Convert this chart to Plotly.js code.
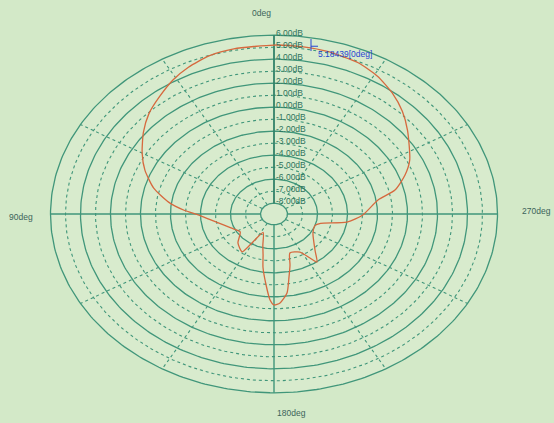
<!DOCTYPE html>
<html><head><meta charset="utf-8">
<script src="https://cdn.plot.ly/plotly-3.0.1.min.js"></script>
<style>html,body{margin:0;padding:0;background:#d3e9c8;}#chart{width:554px;height:423px;}</style>
</head><body><div id="chart"></div>
<script>
// ---- data ----
const angleDeg = [0, 11, 18, 25, 31, 38, 45, 52, 60, 67, 75, 82, 87, 91, 100, 112, 123.5, 135, 146, 149, 155, 164, 168, 170.6, 174.9, 177.9, 180, 183.1, 187.5, 190.8, 194.1, 198, 208.6, 213.2, 215.6, 222.3, 238.7, 251, 256, 262, 269, 279.6, 283.9, 290.4, 296.4, 308, 315, 322, 329, 336, 345, 352, 360];
const gainDb = [5.18, 5.12, 4.98, 4.6, 4.15, 3.5, 2.9, 2.15, 1.25, 0.45, -0.6, -1.8, -2.9, -3.9, -5.0, -5.8, -6.2, -5.5, -5.1, -6.2, -7.2, -6.2, -5.4, -4.4, -2.96, -1.73, -1.32, -1.47, -2.26, -3.56, -4.52, -5.48, -5.29, -4.52, -3.98, -4.84, -5.86, -6.0, -5.7, -4.0, -3.0, -1.87, -0.59, 0.42, 1.2, 2.4, 3.2, 3.9, 4.5, 4.9, 5.1, 5.16, 5.18];
const gridLevels = [6, 5, 4, 3, 2, 1, 0, -1, -2, -3, -4, -5, -6, -7, -8];
const tickLabels = ["6.00dB","5.00dB","4.00dB","3.00dB","2.00dB","1.00dB","0.00dB","-1.00dB","-2.00dB","-3.00dB","-4.00dB","-5.00dB","-6.00dB","-7.00dB","-8.00dB"];
const spokeAngles = [30, 60, 120, 150, 210, 240, 300, 330];
const axisAngles = [0, 90, 180, 270];
const angleLabels = ["0deg", "90deg", "180deg", "270deg"];
const markerText = "5.18439[0deg]";

// ---- geometry helpers ----
const R0 = -8.9;           // dB value at the centre
const rMax = 6, rMin = -8;
function toXY(deg, db) {
  const t = deg * Math.PI / 180, r = db - R0;
  return [-r * Math.sin(t), r * Math.cos(t)];
}

const gridColor = 'rgb(64,150,122)';
const traces = [];

// outer ellipse fill
(function(){
  const xs = [], ys = [];
  for (let a = 0; a <= 360; a += 2) { const p = toXY(a, rMax); xs.push(p[0]); ys.push(p[1]); }
  traces.push({x: xs, y: ys, mode: 'lines', fill: 'toself', fillcolor: 'rgb(216,235,205)', line: {width: 0}, hoverinfo: 'skip'});
})();

// grid ellipses
gridLevels.forEach(lv => {
  const xs = [], ys = [];
  for (let a = 0; a <= 360; a += 1) { const p = toXY(a, lv); xs.push(p[0]); ys.push(p[1]); }
  const solid = (lv % 2 === 0);
  traces.push({x: xs, y: ys, mode: 'lines', hoverinfo: 'skip',
    line: {color: gridColor, width: solid ? 1.3 : 1.1, dash: solid ? 'solid' : 'dot'}});
});

// spokes
spokeAngles.forEach(a => {
  const p1 = toXY(a, rMin), p2 = toXY(a, rMax);
  traces.push({x: [p1[0], p2[0]], y: [p1[1], p2[1]], mode: 'lines', hoverinfo: 'skip',
    line: {color: gridColor, width: 1.1, dash: 'dot'}});
});
axisAngles.forEach(a => {
  const p1 = toXY(a, rMin), p2 = toXY(a, rMax);
  traces.push({x: [p1[0], p2[0]], y: [p1[1], p2[1]], mode: 'lines', hoverinfo: 'skip',
    line: {color: a === 0 ? 'rgb(50,130,105)' : gridColor, width: a === 0 ? 1.8 : 1.4}});
});

// pattern curve
(function(){
  const xs = [], ys = [];
  angleDeg.forEach((a, i) => { const p = toXY(a, gainDb[i]); xs.push(p[0]); ys.push(p[1]); });
  traces.push({x: xs, y: ys, mode: 'lines', hoverinfo: 'skip',
    line: {color: 'rgb(214,105,62)', width: 1.3, shape: 'spline', smoothing: 0.6}});
})();

// annotations
const font = {family: 'Liberation Sans, Arial, sans-serif', size: 8.5, color: 'rgb(45,115,92)'};
const ann = [];
gridLevels.forEach((lv, i) => {
  const p = toXY(0, lv);
  ann.push({x: p[0], y: p[1], xref: 'x', yref: 'y', text: tickLabels[i], showarrow: false,
    xanchor: 'left', yanchor: 'middle', xshift: 0, yshift: 2, font: font});
});
// angle labels placed in pixel space (paper coords)
const angleLabelPx = [[273, 13, 'right'], [7, 217, 'left'], [275, 413, 'left'], [520, 211, 'left']];
angleLabels.forEach((t, i) => {
  const q = angleLabelPx[i];
  ann.push({x: q[0] / 554, y: 1 - q[1] / 423, xref: 'paper', yref: 'paper', text: t, showarrow: false,
    xanchor: q[2], yanchor: 'middle',
    font: {family: 'Liberation Sans, Arial, sans-serif', size: 8.5, color: 'rgb(60,100,90)'}});
});
// marker readout
const pk = toXY(0, gainDb[0]);
ann.push({x: pk[0], y: pk[1], xref: 'x', yref: 'y', text: markerText, showarrow: false,
  xanchor: 'left', yanchor: 'middle', xshift: 42, yshift: -9,
  font: {family: 'Liberation Sans, Arial, sans-serif', size: 8.5, color: 'rgb(40,70,210)'}});

const shapes = [
  {type: 'line', xref: 'x', yref: 'y', x0: pk[0] + 37/15, x1: pk[0] + 37/15, y0: pk[1] + 0.5, y1: pk[1] - 0.5,
   line: {color: 'rgb(40,70,210)', width: 1}},
  {type: 'line', xref: 'x', yref: 'y', x0: pk[0] + 37/15, x1: pk[0] + 44/15, y0: pk[1] - 0.1, y1: pk[1] - 0.1,
   line: {color: 'rgb(40,70,210)', width: 1}}
];

const layout = {
  width: 554, height: 423,
  margin: {l: 0, r: 0, t: 0, b: 0},
  paper_bgcolor: 'rgb(211,233,200)', plot_bgcolor: 'rgb(211,233,200)',
  showlegend: false,
  xaxis: {range: [-274/15, 280/15], visible: false, fixedrange: true},
  yaxis: {range: [-(423-214)/12, 214/12], visible: false, fixedrange: true},
  annotations: ann, shapes: shapes
};
Plotly.newPlot('chart', traces, layout, {staticPlot: true, displayModeBar: false});
</script></body></html>
